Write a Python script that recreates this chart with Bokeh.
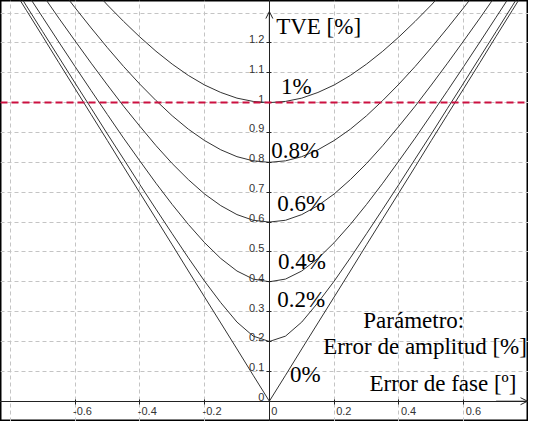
from bokeh.plotting import figure
from bokeh.models import (FixedTicker, Span, Arrow, OpenHead, CustomJSTickFormatter,
                          ColumnDataSource)
from bokeh.core.properties import value
from bokeh.embed import file_html
from bokeh.resources import INLINE

# Phase error [deg] (right half; curves are symmetric about 0)
phase = [0.0, 0.05, 0.10, 0.15, 0.20, 0.25, 0.30, 0.35, 0.40, 0.45, 0.50,
         0.55, 0.60, 0.65, 0.70, 0.75, 0.80]
# TVE [%] for each amplitude-error parameter
tve_0 = [0.0, 0.087, 0.175, 0.262, 0.349, 0.436, 0.524, 0.611, 0.698, 0.785, 0.873,
         0.960, 1.047, 1.134, 1.222, 1.309, 1.396]
tve_02 = [0.2, 0.218, 0.265, 0.330, 0.402, 0.480, 0.561, 0.643, 0.726, 0.811, 0.895,
          0.981, 1.066, 1.152, 1.238, 1.324, 1.411]
tve_04 = [0.4, 0.409, 0.436, 0.478, 0.531, 0.592, 0.659, 0.730, 0.805, 0.881, 0.960,
          1.040, 1.121, 1.203, 1.286, 1.369, 1.452]
tve_06 = [0.6, 0.606, 0.625, 0.655, 0.694, 0.742, 0.796, 0.856, 0.921, 0.988, 1.059,
          1.132, 1.207, 1.283, 1.361, 1.440, 1.520]
tve_08 = [0.8, 0.805, 0.819, 0.842, 0.873, 0.911, 0.956, 1.007, 1.062, 1.121, 1.184,
          1.250, 1.318, 1.388, 1.460, 1.534, 1.609]
tve_10 = [1.0, 1.004, 1.015, 1.034, 1.059, 1.091, 1.129, 1.172, 1.220, 1.272, 1.327,
          1.386, 1.448, 1.512, 1.579, 1.647, 1.718]
curves = [tve_0, tve_02, tve_04, tve_06, tve_08, tve_10]

curve_labels = ["0%", "0.2%", "0.4%", "0.6%", "0.8%", "1%"]
label_x = [0.064, 0.024, 0.027, 0.024, 0.006, 0.036]
label_y = [0.091, 0.339, 0.469, 0.661, 0.840, 1.055]

x_ticks = [-0.6, -0.4, -0.2, 0, 0.2, 0.4, 0.6]
y_ticks = [0, 0.1, 0.2, 0.3, 0.4, 0.5, 0.6, 0.7, 0.8, 0.9, 1, 1.1, 1.2]
x_tick_labels = ["-0.6", "-0.4", "-0.2", "0", "0.2", "0.4", "0.6"]
y_tick_labels = ["0", "0.1", "0.2", "0.3", "0.4", "0.5", "0.6", "0.7", "0.8", "0.9",
                 "1", "1.1", "1.2"]
x_grid = [-0.8, -0.6, -0.4, -0.2, 0, 0.2, 0.4, 0.6, 0.8]
y_grid = [0, 0.1, 0.2, 0.3, 0.4, 0.5, 0.6, 0.7, 0.8, 0.9, 1, 1.1, 1.2, 1.3]
limit_tve = 1.0

p = figure(width=528, height=421, x_range=(-0.83, 0.80), y_range=(-0.068, 1.342),
           output_backend="svg", toolbar_location=None, min_border=0)
p.background_fill_color = "white"
p.border_fill_color = "white"
p.outline_line_color = "black"
p.outline_line_width = 2

p.xgrid.ticker = FixedTicker(ticks=x_grid)
p.ygrid.ticker = FixedTicker(ticks=y_grid)
for g in (p.xgrid, p.ygrid):
    g.grid_line_color = "#c4c4c4"
    g.grid_line_dash = "4 3"
    g.grid_line_width = 1

blank = CustomJSTickFormatter(code="return '';")
p.xaxis.ticker = FixedTicker(ticks=x_ticks)
p.yaxis.ticker = FixedTicker(ticks=y_ticks)
for ax in (p.xaxis, p.yaxis):
    ax.fixed_location = 0
    ax.formatter = blank
    ax.axis_line_color = "#222222"
    ax.major_tick_line_color = "#222222"
    ax.major_tick_in = 2
    ax.major_tick_out = 3
    ax.minor_tick_line_color = None

# tick labels placed like the original (right of x ticks, above y ticks)
sans = value("Liberation Sans")
p.text(x=x_ticks, y=[0] * len(x_ticks), text=x_tick_labels, text_font=sans,
       text_font_size="11px", text_color="#333333", text_align="left",
       text_baseline="top", x_offset=[-2 if v < 0 else 2 for v in x_ticks],
       y_offset=6)
p.text(x=[0] * len(y_ticks), y=y_ticks, text=y_tick_labels, text_font=sans,
       text_font_size="11px", text_color="#333333", text_align="right",
       text_baseline="bottom", x_offset=-5, y_offset=0)

# curves
for ys in curves:
    xs_full = [-v for v in phase[::-1]] + phase[1:]
    ys_full = ys[::-1] + ys[1:]
    p.line(xs_full, ys_full, line_color="#333333", line_width=1)

p.add_layout(Span(location=limit_tve, dimension="width", line_color="#cc1040",
                  line_width=2, line_dash="7 4"))

# arrow heads on axes
p.add_layout(Arrow(end=OpenHead(size=7, line_width=1, line_color="#222222"),
                   x_start=0.70, y_start=0, x_end=0.797, y_end=0,
                   line_color="#222222", line_width=1))
p.add_layout(Arrow(end=OpenHead(size=7, line_width=1, line_color="#222222"),
                   x_start=0, y_start=1.2, x_end=0, y_end=1.305,
                   line_color="#222222", line_width=1))

serif = value("Liberation Serif")
p.text(x=label_x, y=label_y, text=curve_labels, text_font=serif,
       text_font_size="23px", text_baseline="middle", text_align="left",
       text_color="black")

ann = ColumnDataSource(dict(
    x=[0.021, 0.290, 0.309],
    y=[1.254, 0.270, 0.059],
    t=["TVE [%]", "Parámetro:", "Error de fase [º]"]))
p.text(x="x", y="y", text="t", source=ann, text_font=serif,
       text_font_size="23px", text_baseline="middle", text_align="left",
       text_color="black")
p.text(x=[0.795], y=[0.182], text=["Error de amplitud [%]"], text_font=serif,
       text_font_size="23px", text_baseline="middle", text_align="right",
       text_color="black")

open("out.html", "w").write(file_html(p, INLINE))
